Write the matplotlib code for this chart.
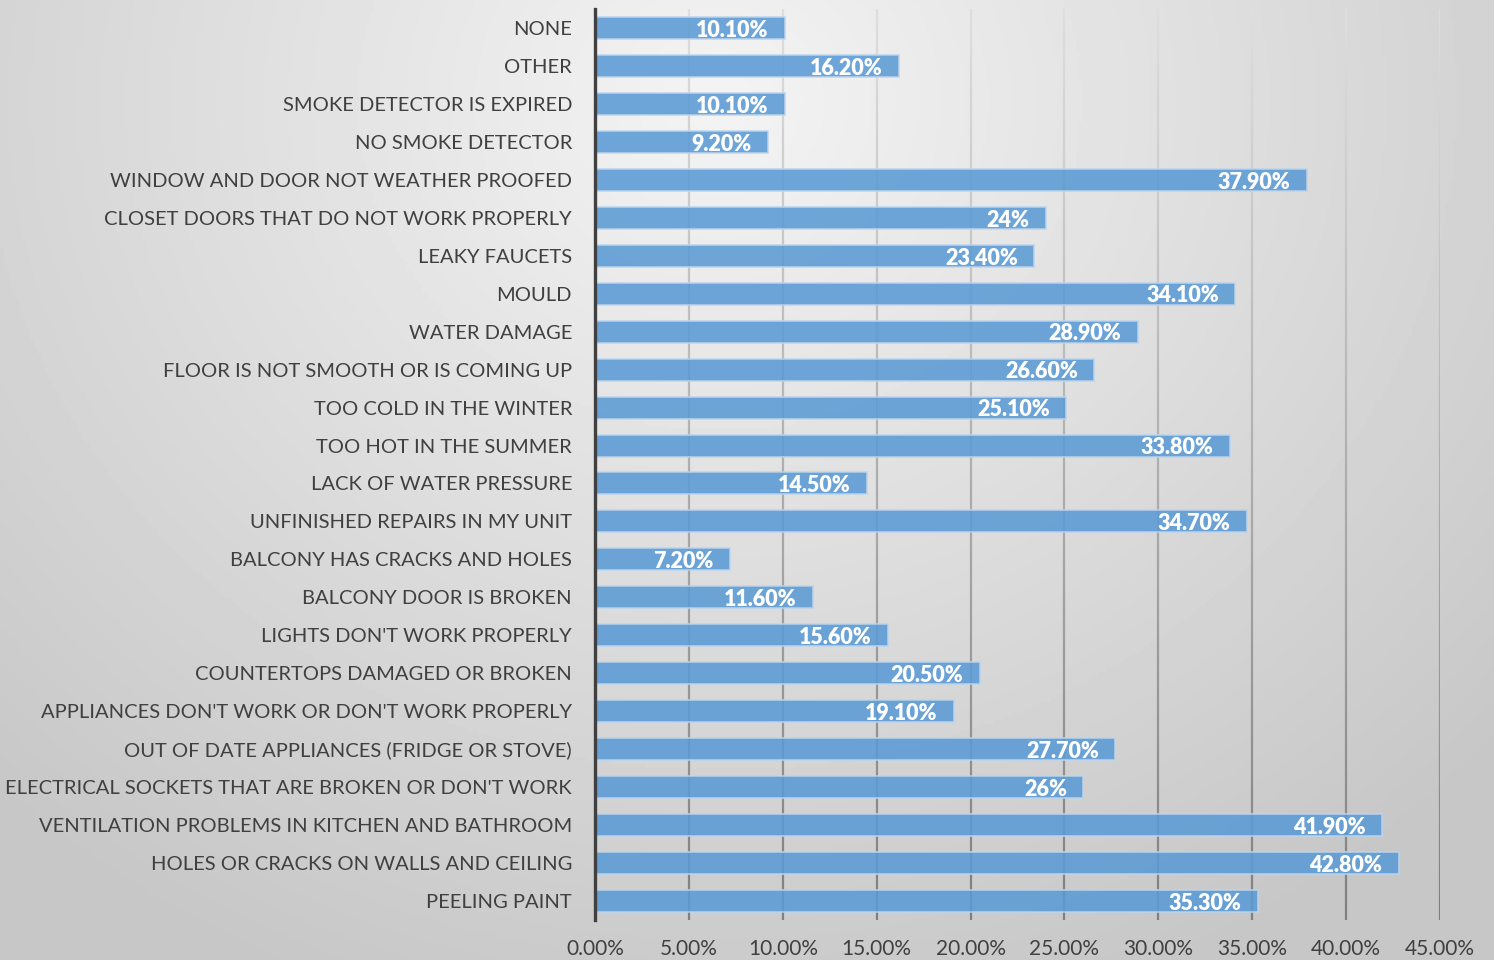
import numpy as np
import matplotlib.pyplot as plt
from matplotlib.collections import LineCollection
from matplotlib.ticker import FuncFormatter

plt.rcParams['font.family'] = ['Lato', 'DejaVu Sans']

# Дані (зверху вниз, як на графіку)
categories = [
    "NONE", "OTHER", "SMOKE DETECTOR IS EXPIRED", "NO SMOKE DETECTOR",
    "WINDOW AND DOOR NOT WEATHER PROOFED", "CLOSET DOORS THAT DO NOT WORK PROPERLY",
    "LEAKY FAUCETS", "MOULD", "WATER DAMAGE", "FLOOR IS NOT SMOOTH OR IS COMING UP",
    "TOO COLD IN THE WINTER", "TOO HOT IN THE SUMMER", "LACK OF WATER PRESSURE",
    "UNFINISHED REPAIRS IN MY UNIT", "BALCONY HAS CRACKS AND HOLES",
    "BALCONY DOOR IS BROKEN", "LIGHTS DON'T WORK PROPERLY",
    "COUNTERTOPS DAMAGED OR BROKEN", "APPLIANCES DON'T WORK OR DON'T WORK PROPERLY",
    "OUT OF DATE APPLIANCES (FRIDGE OR STOVE)",
    "ELECTRICAL SOCKETS THAT ARE BROKEN OR DON'T WORK",
    "VENTILATION PROBLEMS IN KITCHEN AND BATHROOM",
    "HOLES OR CRACKS ON WALLS AND CEILING", "PEELING PAINT",
]
values = [0.101, 0.162, 0.101, 0.092, 0.379, 0.24, 0.234, 0.341, 0.289, 0.266,
          0.251, 0.338, 0.145, 0.347, 0.072, 0.116, 0.156, 0.205, 0.191, 0.277,
          0.26, 0.419, 0.428, 0.353]
value_labels = ["10.10%", "16.20%", "10.10%", "9.20%", "37.90%", "24%", "23.40%",
                "34.10%", "28.90%", "26.60%", "25.10%", "33.80%", "14.50%", "34.70%",
                "7.20%", "11.60%", "15.60%", "20.50%", "19.10%", "27.70%", "26%",
                "41.90%", "42.80%", "35.30%"]
xticks = [0, 0.05, 0.10, 0.15, 0.20, 0.25, 0.30, 0.35, 0.40, 0.45]

fig = plt.figure(figsize=(14.94, 9.6), dpi=100)

# Радіальний градієнт фону
bg = fig.add_axes([0, 0, 1, 1], zorder=-10)
gx, gy = np.meshgrid(np.linspace(0, 1494, 400), np.linspace(0, 960, 260))
r = np.sqrt((gx - 720) ** 2 + ((gy - 100) * 1.1) ** 2) / 1050
r = np.clip(r, 0, 1)
shade = 0.955 - (0.955 - 0.78) * r
bg.imshow(shade, cmap='gray', vmin=0, vmax=1, aspect='auto', extent=[0, 1, 0, 1])
bg.axis('off')

ax = fig.add_axes([595 / 1494, 40 / 960, (1440 - 595) / 1494, 911 / 960])
ax.patch.set_alpha(0)

y = np.arange(len(categories))
ax.set_ylim(len(categories) - 0.5, -0.5)
ax.set_xlim(0, 0.45)

# Сітка з градієнтом кольору (світла зверху, темна знизу)
ys = np.linspace(-0.5, len(categories) - 0.5, 120)
for xt in xticks[1:]:
    segs = [[(xt, ys[i]), (xt, ys[i + 1])] for i in range(len(ys) - 1)]
    t = np.linspace(0, 1, len(segs))
    g = 0.87 - 0.37 * t
    cols = [(c, c, c) for c in g]
    ax.add_collection(LineCollection(segs, colors=cols, linewidths=1.6, zorder=1))

ax.barh(y, values, height=0.58, color='#5b9bd5', alpha=0.88,
        edgecolor='#bcd4ec', linewidth=1.2, zorder=2)

for yi, v, lab in zip(y, values, value_labels):
    ax.text(v - 0.0087, yi + 0.06, lab, ha='right', va='center',
            color='white', fontsize=15.5, fontweight='heavy', zorder=3)

ax.set_yticks(y)
ax.set_yticklabels(categories, fontsize=14.5, color='#404040')
ax.set_xticks(xticks)
ax.xaxis.set_major_formatter(FuncFormatter(lambda v, p: f"{v * 100:.2f}%"))
ax.tick_params(axis='x', length=0, labelsize=15, labelcolor='#404040', pad=14)
ax.tick_params(axis='y', length=0, pad=16.5)

for s in ['top', 'right', 'bottom']:
    ax.spines[s].set_visible(False)
ax.spines['left'].set_color('#404040')
ax.spines['left'].set_linewidth(2.4)
ax.spines['left'].set_zorder(4)

fig.savefig('out.png', dpi=100)
